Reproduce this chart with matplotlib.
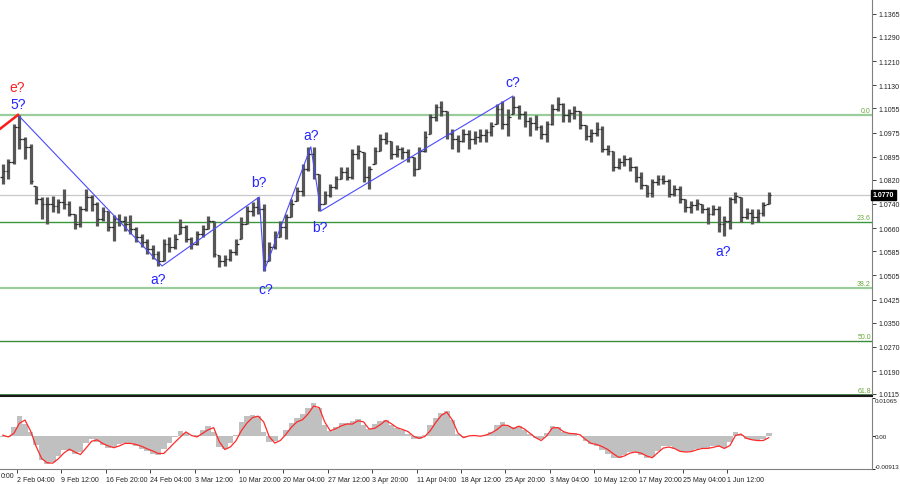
import numpy as np
import matplotlib
matplotlib.use('Agg')
import matplotlib.pyplot as plt

plt.rcParams['font.family'] = ['Liberation Sans', 'DejaVu Sans']

# 16h bars (EURUSD)
highs = [
    1.0871, 1.0888, 1.1003, 1.1033, 1.0960, 1.0937, 1.0799, 1.0763, 1.0763, 1.0766,
    1.0756, 1.0789, 1.0750, 1.0707, 1.0733, 1.0789, 1.0770, 1.0746, 1.0730, 1.0717,
    1.0704, 1.0707, 1.0700, 1.0704, 1.0664, 1.0641, 1.0625, 1.0605, 1.0585, 1.0625,
    1.0631, 1.0641, 1.0691, 1.0671, 1.0631, 1.0651, 1.0671, 1.0700, 1.0684, 1.0572,
    1.0572, 1.0592, 1.0625, 1.0697, 1.0733, 1.0746, 1.0763, 1.0740, 1.0615, 1.0651,
    1.0684, 1.0707, 1.0756, 1.0796, 1.0871, 1.0927, 1.0927, 1.0839, 1.0783, 1.0806,
    1.0832, 1.0862, 1.0862, 1.0921, 1.0934, 1.0911, 1.0865, 1.0927, 1.0970, 1.0977,
    1.0947, 1.0934, 1.0927, 1.0921, 1.0895, 1.0927, 1.0980, 1.1036, 1.1069, 1.1079,
    1.1046, 1.0987, 1.0967, 1.0987, 1.0983, 1.0980, 1.0987, 1.0987, 1.1010, 1.1069,
    1.1079, 1.1052, 1.1095, 1.1066, 1.1046, 1.1026, 1.1033, 1.1000, 1.1013, 1.1069,
    1.1092, 1.1072, 1.1052, 1.1062, 1.1046, 1.1000, 1.0987, 1.1010, 1.0996, 1.0934,
    1.0914, 1.0891, 1.0901, 1.0895, 1.0865, 1.0845, 1.0802, 1.0822, 1.0835, 1.0835,
    1.0822, 1.0802, 1.0799, 1.0756, 1.0750, 1.0756, 1.0740, 1.0730, 1.0737, 1.0733,
    1.0700, 1.0763, 1.0779, 1.0763, 1.0727, 1.0724, 1.0724, 1.0746, 1.0779,
]
lows = [
    1.0806, 1.0822, 1.0871, 1.0921, 1.0888, 1.0806, 1.0740, 1.0691, 1.0674, 1.0714,
    1.0710, 1.0724, 1.0700, 1.0658, 1.0664, 1.0717, 1.0717, 1.0668, 1.0684, 1.0651,
    1.0618, 1.0668, 1.0651, 1.0641, 1.0615, 1.0598, 1.0576, 1.0559, 1.0536, 1.0552,
    1.0582, 1.0592, 1.0641, 1.0615, 1.0592, 1.0605, 1.0631, 1.0658, 1.0566, 1.0533,
    1.0536, 1.0552, 1.0572, 1.0625, 1.0674, 1.0700, 1.0707, 1.0520, 1.0552, 1.0592,
    1.0631, 1.0625, 1.0697, 1.0750, 1.0766, 1.0848, 1.0822, 1.0717, 1.0740, 1.0763,
    1.0789, 1.0822, 1.0819, 1.0822, 1.0888, 1.0812, 1.0789, 1.0871, 1.0914, 1.0937,
    1.0888, 1.0895, 1.0888, 1.0878, 1.0832, 1.0855, 1.0911, 1.0970, 1.1013, 1.1029,
    1.0954, 1.0921, 1.0911, 1.0944, 1.0921, 1.0937, 1.0944, 1.0944, 1.0964, 1.1003,
    1.0987, 1.0964, 1.1036, 1.1020, 1.0993, 1.0964, 1.0983, 1.0954, 1.0944, 1.1000,
    1.1046, 1.1010, 1.1010, 1.1020, 1.0987, 1.0950, 1.0944, 1.0964, 1.0911, 1.0901,
    1.0848, 1.0855, 1.0865, 1.0848, 1.0812, 1.0789, 1.0763, 1.0763, 1.0802, 1.0806,
    1.0763, 1.0766, 1.0743, 1.0714, 1.0710, 1.0720, 1.0710, 1.0674, 1.0704, 1.0648,
    1.0635, 1.0658, 1.0743, 1.0681, 1.0691, 1.0674, 1.0681, 1.0700, 1.0740,
]
closes = [
    1.0848, 1.0878, 1.0993, 1.0954, 1.0927, 1.0816, 1.0756, 1.0740, 1.0740, 1.0733,
    1.0746, 1.0740, 1.0707, 1.0674, 1.0724, 1.0763, 1.0740, 1.0691, 1.0717, 1.0664,
    1.0691, 1.0684, 1.0674, 1.0658, 1.0631, 1.0615, 1.0592, 1.0576, 1.0552, 1.0608,
    1.0598, 1.0625, 1.0664, 1.0625, 1.0608, 1.0641, 1.0658, 1.0684, 1.0576, 1.0552,
    1.0559, 1.0582, 1.0608, 1.0674, 1.0717, 1.0730, 1.0724, 1.0552, 1.0598, 1.0631,
    1.0664, 1.0697, 1.0740, 1.0783, 1.0855, 1.0904, 1.0839, 1.0740, 1.0770, 1.0796,
    1.0822, 1.0845, 1.0829, 1.0904, 1.0914, 1.0829, 1.0855, 1.0914, 1.0954, 1.0947,
    1.0904, 1.0921, 1.0911, 1.0895, 1.0855, 1.0914, 1.0960, 1.1026, 1.1059, 1.1046,
    1.0970, 1.0954, 1.0947, 1.0970, 1.0954, 1.0960, 1.0967, 1.0977, 1.0996, 1.1052,
    1.1003, 1.1026, 1.1059, 1.1036, 1.1013, 1.1006, 1.0993, 1.0970, 1.1003, 1.1052,
    1.1069, 1.1033, 1.1039, 1.1046, 1.1000, 1.0964, 1.0973, 1.0987, 1.0921, 1.0914,
    1.0862, 1.0878, 1.0888, 1.0862, 1.0829, 1.0802, 1.0776, 1.0812, 1.0822, 1.0816,
    1.0773, 1.0789, 1.0756, 1.0730, 1.0737, 1.0743, 1.0724, 1.0707, 1.0724, 1.0674,
    1.0684, 1.0756, 1.0766, 1.0697, 1.0710, 1.0697, 1.0710, 1.0737, 1.0770,
]
first_open = 1.0830

# oscillator panel
hist = [
    -0.0003, -0.0003, 0.0025, 0.0056, 0.0034, 0.0012, -0.0025, -0.0065, -0.0078, -0.0073,
    -0.0055, -0.0038, -0.0040, -0.0050, -0.0045, -0.0018, -0.0009, -0.0017, -0.0025, -0.0034,
    -0.0031, -0.0021, -0.0020, -0.0020, -0.0026, -0.0036, -0.0042, -0.0050, -0.0052, -0.0035,
    -0.0019, -0.0003, 0.0015, 0.0010, 0.0001, 0.0004, 0.0018, 0.0029, 0.0012, -0.0030,
    -0.0035, -0.0020, 0.0004, 0.0040, 0.0055, 0.0058, 0.0055, 0.0012, -0.0016, -0.0012,
    0.0002, 0.0018, 0.0038, 0.0052, 0.0062, 0.0080, 0.0093, 0.0078, 0.0030, 0.0014,
    0.0025, 0.0037, 0.0037, 0.0042, 0.0049, 0.0030, 0.0020, 0.0033, 0.0042, 0.0046,
    0.0030, 0.0022, 0.0016, 0.0007, -0.0009, -0.0009, 0.0003, 0.0030, 0.0050, 0.0066,
    0.0070, 0.0045, 0.0006, -0.0003, 0.0001, 0.0003, 0.0001, 0.0004, 0.0013, 0.0030,
    0.0040, 0.0028, 0.0025, 0.0029, 0.0018, 0.0006, -0.0006, -0.0008, 0.0010, 0.0029,
    0.0026, 0.0012, 0.0008, 0.0008, 0.0002, -0.0013, -0.0022, -0.0027, -0.0038, -0.0049,
    -0.0061, -0.0060, -0.0053, -0.0045, -0.0045, -0.0052, -0.0061, -0.0058, -0.0042, -0.0028,
    -0.0027, -0.0035, -0.0042, -0.0043, -0.0040, -0.0036, -0.0034, -0.0034, -0.0026, -0.0030,
    -0.0033, -0.0016, 0.0012, 0.0004, -0.0007, -0.0010, -0.0012, -0.0007, 0.0008,
]
signal = [
    0.0003, -0.0002, 0.0008, 0.0036, 0.0045, 0.0015, -0.0028, -0.0062, -0.0074, -0.0075,
    -0.0063, -0.0047, -0.0036, -0.0044, -0.0051, -0.0033, -0.0014, -0.0010, -0.0020, -0.0027,
    -0.0032, -0.0027, -0.0020, -0.0020, -0.0023, -0.0028, -0.0035, -0.0041, -0.0048, -0.0048,
    -0.0033, -0.0017, -0.0002, 0.0012, 0.0002, -0.0002, 0.0008, 0.0018, 0.0024, -0.0015,
    -0.0037, -0.0030, -0.0013, 0.0016, 0.0037, 0.0052, 0.0056, 0.0040, -0.0001, -0.0019,
    -0.0012, 0.0005, 0.0025, 0.0040, 0.0046, 0.0062, 0.0084, 0.0080, 0.0040, 0.0015,
    0.0021, 0.0029, 0.0034, 0.0034, 0.0043, 0.0040, 0.0020, 0.0022, 0.0032, 0.0044,
    0.0035, 0.0024, 0.0019, 0.0013, 0.0000, -0.0006, -0.0001, 0.0015, 0.0038, 0.0058,
    0.0067, 0.0045, 0.0009, -0.0004, 0.0001, 0.0002, 0.0000, 0.0003, 0.0009, 0.0018,
    0.0031, 0.0030, 0.0021, 0.0028, 0.0020, 0.0008, -0.0004, -0.0012, 0.0001, 0.0023,
    0.0024, 0.0013, 0.0008, 0.0007, 0.0004, -0.0009, -0.0020, -0.0023, -0.0029, -0.0037,
    -0.0049, -0.0059, -0.0055, -0.0047, -0.0044, -0.0047, -0.0055, -0.0060, -0.0046, -0.0033,
    -0.0030, -0.0034, -0.0042, -0.0044, -0.0043, -0.0038, -0.0034, -0.0034, -0.0031, -0.0027,
    -0.0034, -0.0026, 0.0002, 0.0006, -0.0006, -0.0010, -0.0012, -0.0012, -0.0004,
]
osc_max = 0.01065
osc_min = -0.00913

# wave markup
wave_x = [3.24, 29.2, 46.7, 47.6, 56.0, 57.8, 92.4]
wave_y = [1.1033, 1.0536, 1.0763, 1.0520, 1.0928, 1.0717, 1.1095]
red_x = [0.0, 3.24]
red_y = [1.0987, 1.1033]
wave_labels = ['5?', 'a?', 'b?', 'c?', 'a?', 'b?', 'c?', 'a?']
label_x = [3.24, 28.5, 46.7, 47.9, 56.0, 57.7, 92.4, 130.3]
label_y = [1.1069, 1.0493, 1.0812, 1.0460, 1.0967, 1.0664, 1.1141, 1.0585]

# fibonacci
fib_top = 1.1033
fib_bottom = 0.9543
fib_levels = [0.0, 23.6, 38.2, 50.0, 61.8]
fib_colors = ['#9acd9a', '#3c963c', '#9acd9a', '#3c8c3c', '#2e6e2e']
fib_widths = [1.6, 1.0, 1.6, 1.0, 1.2]

price_ticks = [1.1365, 1.1290, 1.1210, 1.1130, 1.1055, 1.0975, 1.0895, 1.0820,
               1.0740, 1.0660, 1.0585, 1.0505, 1.0425, 1.0350, 1.0270, 1.0190, 1.0115]
time_labels = ['2 Feb 04:00', '9 Feb 12:00', '16 Feb 20:00', '24 Feb 04:00',
               '3 Mar 12:00', '10 Mar 20:00', '20 Mar 04:00', '27 Mar 12:00',
               '3 Apr 20:00', '11 Apr 04:00', '18 Apr 12:00', '25 Apr 20:00',
               '3 May 04:00', '10 May 12:00', '17 May 20:00', '25 May 04:00',
               '1 Jun 12:00']

W, H = 900, 485
fig = plt.figure(figsize=(W / 100, H / 100), dpi=100)
ax = fig.add_axes([0, 88 / H, 872 / W, 397 / H])
ax2 = fig.add_axes([0, 15 / H, 872 / W, 71 / H])

xmax = 157.1
n = len(closes)
x = np.arange(n) + 0.5
highs = np.array(highs)
lows = np.array(lows)
closes = np.array(closes)
opens = np.clip(np.r_[first_open, closes[:-1]], lows, highs)

# price panel
ax.set_xlim(0, xmax)
ax.set_ylim(1.01084, 1.14143)
bar_col = '#575757'
ax.vlines(x, lows, highs, color=bar_col, lw=2.3, zorder=3)
ax.hlines(opens, x - 0.48, x, color='#303030', lw=0.9, zorder=3)
ax.hlines(closes, x, x + 0.48, color='#303030', lw=0.9, zorder=3)

last = closes[-1]
ax.axhline(last, color='#c8c8c8', lw=0.9, zorder=1)

for lvl, col, lw in zip(fib_levels, fib_colors, fib_widths):
    p = fib_top - lvl / 100 * (fib_top - fib_bottom)
    ax.axhline(p, color=col, lw=lw, zorder=2)
    ax.text(xmax - 0.2, p + 0.0004, '%.1f' % lvl, ha='right', va='bottom',
            fontsize=5, color='#6aa83a', zorder=5)

ax.plot(wave_x, wave_y, color='#4a4aff', lw=0.8, zorder=4)
ax.plot(red_x, red_y, color='#ff1a1a', lw=1.8, zorder=4)
for t, lx, ly in zip(wave_labels, label_x, label_y):
    ax.text(lx, ly, t, ha='center', va='center', fontsize=10, color='#2424ff', zorder=6)
ax.text(3.06, 1.1125, 'e?', ha='center', va='center', fontsize=10, color='#ff2020', zorder=6)

ax.yaxis.tick_right()
ax.set_yticks(price_ticks)
ax.set_yticklabels(['%.4f' % v for v in price_ticks])
ax.tick_params(axis='y', direction='out', length=3, width=0.6, pad=2,
               labelsize=5, colors='#222222')
ax.set_xticks([])
for s in ['top', 'left']:
    ax.spines[s].set_visible(False)
ax.spines['right'].set_color('#808080')
ax.spines['right'].set_linewidth(0.8)
ax.spines['bottom'].set_color('#1a1a1a')
ax.spines['bottom'].set_linewidth(1.5)

ax.text(1.001, last, '%.4f' % last, transform=ax.get_yaxis_transform(),
        ha='left', va='center', fontsize=5, color='white', fontweight='bold',
        bbox=dict(boxstyle='square,pad=0.25', fc='black', ec='black'), zorder=10,
        clip_on=False)

# oscillator panel
ax2.set_xlim(0, xmax)
ax2.set_ylim(osc_min, osc_max)
ax2.bar(x, hist, width=1.0, color='#c0c0c0', linewidth=0, zorder=2)
ax2.plot(x, signal, color='#ff2a2a', lw=0.9, zorder=3)
ax2.yaxis.tick_right()
ax2.set_yticks([osc_max, 0.0, osc_min])
ax2.set_yticklabels([])
ax2.tick_params(axis='y', direction='out', length=2, width=0.6)
for v, t, va in [(osc_max, '0.01065', 'top'), (0.0, '0.00', 'center'),
                 (osc_min, '-0.00913', 'bottom')]:
    ax2.text(1.003, v, t, transform=ax2.get_yaxis_transform(), ha='left', va=va,
             fontsize=4.5, color='#222222', clip_on=False)
for s in ['top', 'left']:
    ax2.spines[s].set_visible(False)
for s in ['right', 'bottom']:
    ax2.spines[s].set_color('#808080')
    ax2.spines[s].set_linewidth(0.8)

tick_pos = 3.06 + 8 * np.arange(len(time_labels))
ax2.set_xticks(tick_pos)
ax2.set_xticklabels(time_labels)
ax2.tick_params(axis='x', direction='out', length=3, width=0.6, pad=2,
                labelsize=5, colors='#222222')
for lab in ax2.get_xticklabels():
    lab.set_ha('left')
# tail of the previous date label at the left edge
fig.text(0.5 / W, 8 / H, '0:00', fontsize=5, color='#222222', ha='left', va='center')

fig.savefig('out.png', dpi=100, facecolor='white')
